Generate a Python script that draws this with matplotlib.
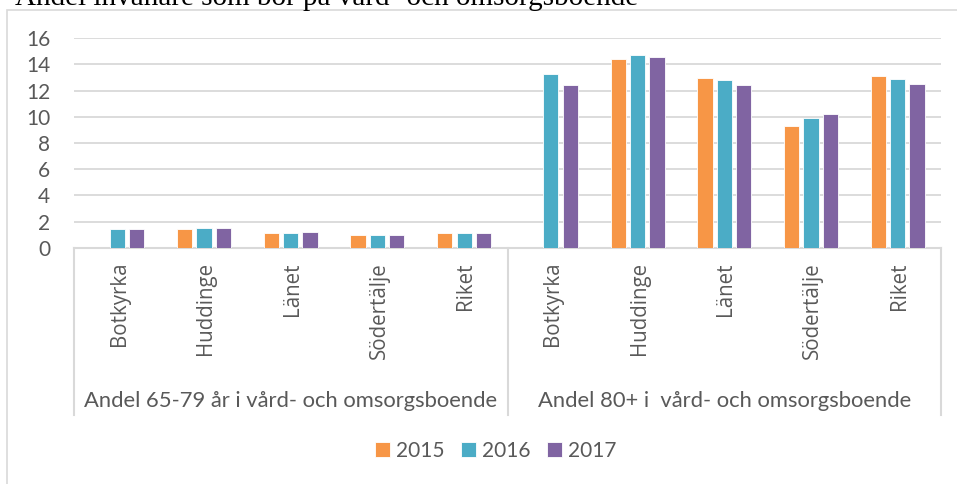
import numpy as np
import matplotlib
matplotlib.use("Agg")
import matplotlib.pyplot as plt
from matplotlib.patches import Rectangle
from matplotlib.transforms import blended_transform_factory

title = "Andel invånare som bor på vård- och omsorgsboende"
years = ["2015", "2016", "2017"]
categories = ["Botkyrka", "Huddinge", "Länet", "Södertälje", "Riket"]
groups = ["Andel 65-79 år i vård- och omsorgsboende",
          "Andel 80+ i  vård- och omsorgsboende"]
v2015 = [np.nan, 1.4, 1.1, 1.0, 1.1, np.nan, 14.4, 13.0, 9.3, 13.1]
v2016 = [1.4, 1.5, 1.1, 1.0, 1.1, 13.3, 14.7, 12.8, 9.9, 12.9]
v2017 = [1.4, 1.5, 1.2, 1.0, 1.1, 12.4, 14.6, 12.4, 10.2, 12.5]
colors = ["#F79646", "#4BACC6", "#8064A2"]

W, H = 957, 484
fig = plt.figure(figsize=(W / 100, H / 100), dpi=100)
font = "Lato"
txt = "#595959"
grid = "#D9D9D9"

# chart frame
fig.patches.append(Rectangle((7 / W, -0.01), 1.0, 1 - 10 / H + 0.01, transform=fig.transFigure,
                             fill=False, edgecolor=grid, lw=1.2))
fig.text(15 / W, 1 - 5 / H, title, family="Liberation Serif", fontsize=21,
         ha="left", va="baseline", color="black")

ax = fig.add_axes([74 / W, 1 - 247.7 / H, (941 - 74) / W, (247.7 - 38.3) / H])
n = len(v2015)
x = np.arange(n)
pitch, bw = 0.223, 0.176
for i, (vals, c) in enumerate(zip([v2015, v2016, v2017], colors)):
    ax.bar(x + (i - 1) * pitch, vals, width=bw, color=c, edgecolor="white", lw=0.6,
           label=years[i], zorder=3)

ax.set_xlim(-0.5, n - 0.5)
ax.set_ylim(0, 16)
ax.set_yticks(range(0, 17, 2))
ax.tick_params(axis="y", length=0, pad=17, labelsize=15, labelcolor=txt)
for lab in ax.get_yticklabels():
    lab.set_family(font)
ax.set_xticks([])
ax.grid(axis="y", color=grid, lw=1.3, zorder=0)
for s in ["top", "right", "left"]:
    ax.spines[s].set_visible(False)
ax.spines["bottom"].set_color(grid)
ax.spines["bottom"].set_linewidth(1.5)

tr = blended_transform_factory(ax.transData, fig.transFigure)
for xe in [-0.5, 4.5, 9.5]:
    ax.plot([xe, xe], [1 - 247.7 / H, 1 - 415 / H], transform=tr, color=grid, lw=1.5,
            clip_on=False)
for j in range(n):
    ax.text(x[j] + 0.02, 1 - 262 / H, categories[j % 5], transform=tr, rotation=90,
            ha="center", va="top", family="Open Sans", fontsize=14.8, color=txt)
for g in range(2):
    ax.text(g * 5 + 2, 1 - 401 / H, groups[g], transform=tr, ha="center", va="center",
            family=font, fontsize=15.8, color=txt)

leg = fig.legend(loc="center", bbox_to_anchor=(496 / W, 1 - 451 / H), ncol=3, frameon=False,
                 prop={"family": font, "size": 15}, handlelength=0.7, handleheight=0.7,
                 handletextpad=0.3, columnspacing=0.8, labelcolor=txt)

fig.savefig("out.png", dpi=100)
